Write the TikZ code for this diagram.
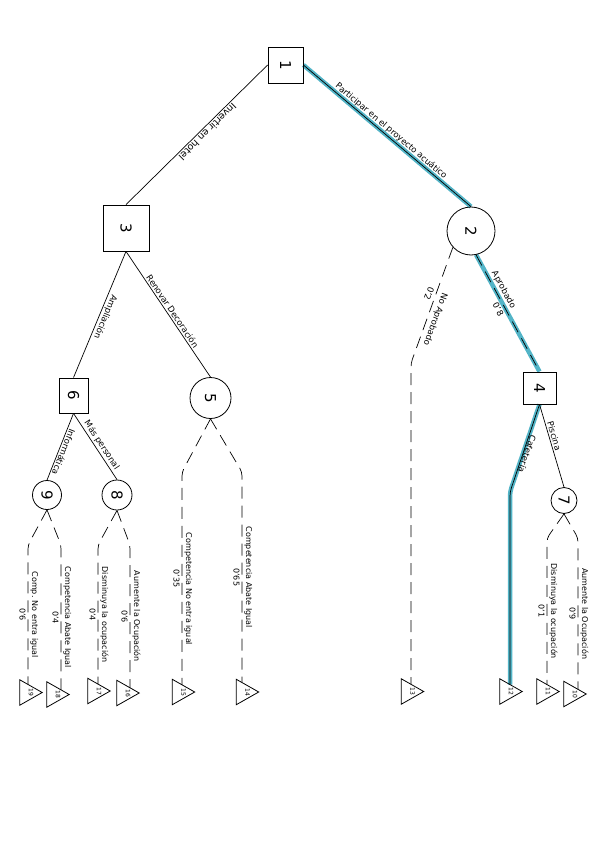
\documentclass[tikz,border=0pt]{standalone}
\usepackage{fontspec}
\setmainfont{DejaVu Sans}
\usetikzlibrary{calc,backgrounds}
\definecolor{hl}{HTML}{52B4C7}
\begin{document}
\begin{tikzpicture}[x=1pt,y=-1pt,
  dec/.style={draw, line width=0.8pt, inner sep=0pt, font=\fontsize{15}{15}\selectfont},
  chance/.style={draw, circle, line width=0.8pt, inner sep=0pt, font=\fontsize{15}{15}\selectfont},
  leafbox/.style={inner sep=0pt, minimum width=22pt, minimum height=25pt, font=\fontsize{6}{6}\selectfont},
  tri/.style={draw, line width=0.8pt, line join=miter},
  edge/.style={line width=0.7pt},
  cedge/.style={line width=0.7pt, dash pattern=on 12pt off 7pt, rounded corners=4pt},
  lbl/.style={sloped, allow upside down, font=\fontsize{8.5}{8.5}\selectfont, inner sep=1.5pt},
  vlbl/.style={sloped, allow upside down, font=\fontsize{8}{8}\selectfont, inner sep=2pt},
  hlpath/.style={line width=4.5pt, hl}
]
\useasboundingbox (0,0) rectangle (600,848);

% decision and chance nodes
\node[dec, minimum width=35pt, minimum height=36pt] (n1) at (285.5,65) {\rotatebox{-90}{1}};
\node[dec, minimum width=46pt, minimum height=46pt] (n3) at (126,228) {\rotatebox{-90}{3}};
\node[chance, minimum size=48pt] (n2) at (471,231) {\rotatebox{-90}{2}};
\node[dec, minimum width=33pt, minimum height=32pt] (n4) at (539.5,388) {\rotatebox{-90}{4}};
\node[dec, minimum width=29pt, minimum height=35pt] (n6) at (73.5,395.5) {\rotatebox{-90}{6}};
\node[chance, minimum size=41pt] (n5) at (210.5,398) {\rotatebox{-90}{5}};
\node[chance, minimum size=29pt] (n9) at (47,495) {\rotatebox{-90}{9}};
\node[chance, minimum size=30pt] (n8) at (117,495) {\rotatebox{-90}{8}};
\node[chance, minimum size=26pt] (n7) at (564,500.5) {\rotatebox{-90}{7}};

% leaves (triangles pointing right)
\foreach \nm/\x/\y in {19/31/692.5, 18/58/694.5, 17/99/691, 16/128/693, 15/183.5/692,
                        14/247.5/692, 13/412.5/691.5, 12/511/691.5, 11/548/691.5, 10/575/694} {
  \node[leafbox] (L\nm) at (\x,\y) {\rotatebox{-90}{\nm}\hspace{7pt}};
  \draw[tri] (L\nm.north west) -- (L\nm.east) -- (L\nm.south west) -- cycle;
}
% entry points on the upper side of each triangle
\foreach \nm/\t in {19/0.36, 18/0.64, 17/0.45, 16/0.59, 15/0.43, 14/0.25, 13/0.43, 12/0.45, 11/0.45, 10/0.64} {
  \coordinate (e\nm) at ($(L\nm.north west)!\t!(L\nm.east)$);
}

% bend points
\coordinate (b13) at (411,363);
\coordinate (b12) at (510,492);
\coordinate (b9l) at (28,545);
\coordinate (b9r) at (61,545);
\coordinate (b8l) at (98,545);
\coordinate (b8r) at (130,545);
\coordinate (b5l) at (182,472);
\coordinate (b5r) at (242,472);
\coordinate (b7l) at (547,538);
\coordinate (b7r) at (578,538);

% highlighted path
\begin{pgfonlayer}{background}
\draw[hlpath] (n1.east) -- (n2.north);
\draw[hlpath] (n2.282) -- (n4.north);
\draw[hlpath, rounded corners=4pt] (n4.south) -- (b12) -- (b12 |- e12);
\end{pgfonlayer}

% edges
\draw[edge] (n1.west) -- (n3.north) node[lbl, above, pos=0.45, font=\fontsize{9.5}{9.5}\selectfont] {Invertir en hotel};
\draw[edge] (n1.east) -- (n2.north) node[lbl, above, pos=0.5] {Participar en el proyecto acuático};
\draw[edge] (n3.south) -- (n6.north) node[lbl, above, pos=0.5] {Ampliación};
\draw[edge] (n3.south) -- (n5.north) node[lbl, above, pos=0.5] {Renovar Decoración};
\draw[cedge] (n2.222) -- (b13) node[lbl, above, pos=0.6, inner sep=3.5pt] {No Aprobado} node[lbl, below, pos=0.42, inner sep=3pt] {0'2}
  -- (b13 |- e13);
\draw[cedge] (n2.282) -- (n4.north) node[lbl, above, pos=0.33, inner sep=3pt] {Aprobado} node[lbl, below, pos=0.44, inner sep=3pt] {0'8};
\draw[edge, rounded corners=4pt] (n4.south) -- (b12) node[lbl, above, pos=0.55, inner sep=0.5pt] {Cafetería}
  -- (b12 |- e12);
\draw[edge] (n4.south) -- (n7.north) node[lbl, above, pos=0.4] {Piscina};
\draw[edge] (n6.south) -- (n9.north) node[lbl, above, pos=0.55] {Informática};
\draw[edge] (n6.south) -- (n8.north) node[lbl, above, pos=0.53] {Más personal};

% chance branches to leaves
\draw[cedge] (n9.south) -- (b9l) -- (b9l |- e19)
  node[vlbl, above, midway] {Comp. No entra igual} node[vlbl, below, midway] {0'6};
\draw[cedge] (n9.south) -- (b9r) -- (b9r |- e18)
  node[vlbl, above, midway] {Competencia Abate Igual} node[vlbl, below, midway] {0'4};
\draw[cedge] (n8.south) -- (b8l) -- (b8l |- e17)
  node[vlbl, above, midway] {Disminuya la ocupación} node[vlbl, below, midway] {0'4};
\draw[cedge] (n8.south) -- (b8r) -- (b8r |- e16)
  node[vlbl, above, midway] {Aumente la Ocupación} node[vlbl, below, midway] {0'6};
\draw[cedge] (n5.south) -- (b5l) -- (b5l |- e15)
  node[vlbl, above, pos=0.55] {Competencia No entra igual} node[vlbl, below, pos=0.5] {0'35};
\draw[cedge] (n5.south) -- (b5r) -- (b5r |- e14)
  node[vlbl, above, pos=0.5] {Competencia Abate Igual} node[vlbl, below, pos=0.5] {0'65};
\draw[cedge] (n7.south) -- (b7l) -- (b7l |- e11)
  node[vlbl, above, midway] {Disminuya la ocupación} node[vlbl, below, midway] {0'1};
\draw[cedge] (n7.south) -- (b7r) -- (b7r |- e10)
  node[vlbl, above, midway] {Aumente la Ocupación} node[vlbl, below, midway] {0'9};
\end{tikzpicture}
\end{document}
